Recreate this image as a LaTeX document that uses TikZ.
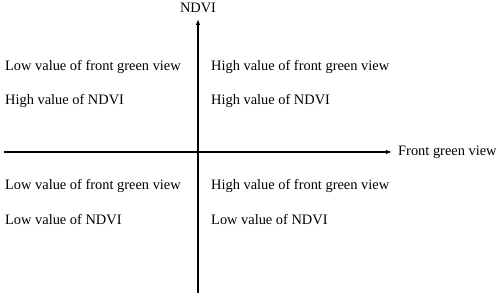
\documentclass[tikz,border=0pt]{standalone}
\usepackage{fontspec}
\setmainfont{Liberation Serif}
\usetikzlibrary{arrows.meta, positioning}

\begin{document}
\begin{tikzpicture}[
  x=1pt, y=-1pt, font=\fontsize{14.4}{17}\selectfont,
  axis/.style={-{Latex[length=6pt,width=4.5pt]}, line width=1.1pt, draw=black},
  txt/.style={anchor=west, inner sep=0pt}]
  \useasboundingbox (0,0) rectangle (498,296);
  % axes
  \coordinate (xl) at (4,152);
  \coordinate (xr) at (392,152);
  \coordinate (yb) at (198,293);
  \coordinate (yt) at (198,19);
  \draw[axis] (xl) -- (xr);
  \draw[axis] (yb) -- (yt);
  \node[anchor=west, inner sep=0pt] (xlab) at (398,152) {Front green view};
  \node[anchor=base, inner sep=0pt] (ylab) at (198,13) {NDVI};
  % quadrants
  \node[txt] (q2a) at (5,67)   {Low value of front green view};
  \node[txt] (q2b) at (5,101)  {High value of NDVI};
  \node[txt] (q1a) at (211,67) {High value of front green view};
  \node[txt] (q1b) at (211,101){High value of NDVI};
  \node[txt] (q3a) at (5,186)  {Low value of front green view};
  \node[txt] (q3b) at (5,220)  {Low value of NDVI};
  \node[txt] (q4a) at (211,186){High value of front green view};
  \node[txt] (q4b) at (211,220){Low value of NDVI};
\end{tikzpicture}
\end{document}
